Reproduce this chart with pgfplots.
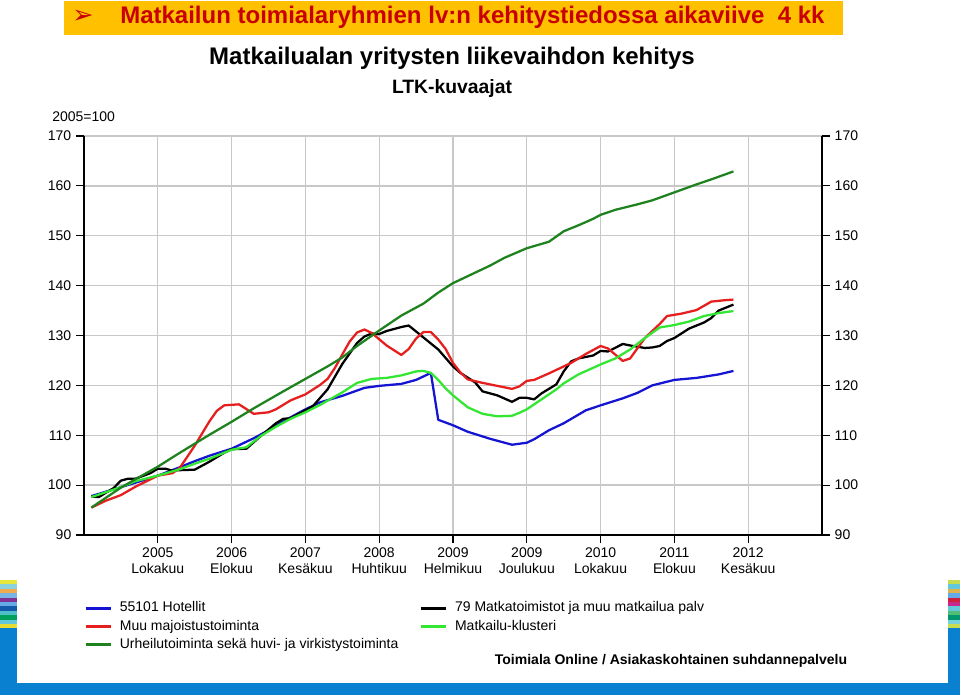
\documentclass[border=0pt]{standalone}
\usepackage{pgfplots}
\usepackage{pgfplotstable}
\pgfplotsset{compat=1.18}
\usepackage{fontspec}
\setmainfont{Liberation Sans}
\newfontfamily\dejavu{DejaVu Sans}
\definecolor{barGold}{RGB}{255,192,0}
\definecolor{titleRed}{RGB}{200,0,0}
\definecolor{slideBlue}{RGB}{10,128,208}
\definecolor{cBlue}{RGB}{20,20,210}
\definecolor{cRed}{RGB}{230,30,30}
\definecolor{cLGreen}{RGB}{50,230,50}
\definecolor{cDGreen}{RGB}{30,130,30}
\definecolor{gridGray}{RGB}{200,200,200}

% month index: 0 = Jan 2005
\pgfplotstableread{
m v
0 97.8
2 98.7
4 99.6
6 100.5
9 101.9
12 103.6
14 104.8
16 105.9
19 107.3
22 109.4
24 111.0
26 112.8
29 115.2
31 116.6
34 117.9
37 119.5
39 119.9
42 120.3
44 121.1
46 122.5
47 113.1
49 112.0
51 110.7
54 109.3
57 108.1
59 108.5
60 109.2
62 111.0
64 112.4
67 115.0
69 116.0
72 117.4
74 118.5
76 120.0
79 121.1
82 121.5
85 122.2
87 122.9
}\hotellit

\pgfplotstableread{
m v
0 97.7
1 97.6
3 99.4
4 100.9
5 101.3
6 101.3
8 102.4
9 103.3
10 103.3
11 102.9
12 103.0
14 103.1
16 104.7
18 106.5
19 107.2
21 107.3
23 109.9
25 112.4
26 113.3
27 113.4
29 115.0
30 115.8
32 119.2
34 124.3
36 128.5
37 129.8
38 130.4
39 130.3
40 130.9
42 131.7
43 132.0
44 130.8
45 129.6
47 127.2
49 123.8
50 122.5
52 120.6
53 118.8
55 118.0
57 116.7
58 117.5
59 117.5
60 117.2
61 118.4
63 120.2
64 122.8
65 124.8
66 125.4
68 126.0
69 126.9
70 126.8
72 128.3
73 128.0
75 127.5
76 127.6
77 127.9
78 128.9
79 129.5
81 131.4
83 132.6
84 133.5
85 135.0
87 136.2
}\matkatoimistot

\pgfplotstableread{
m v
0 95.5
2 96.9
4 98.0
6 99.7
9 101.9
11 102.4
12 103.5
14 107.9
16 112.8
17 114.9
18 116.0
20 116.2
22 114.3
24 114.6
25 115.2
27 117.0
29 118.2
31 120.1
32 121.3
33 123.5
34 126.2
35 128.8
36 130.6
37 131.2
38 130.5
40 128.0
42 126.1
43 127.3
44 129.4
45 130.7
46 130.7
47 129.2
48 127.3
49 124.5
50 122.6
51 121.2
53 120.5
55 119.9
57 119.3
58 119.8
59 120.9
60 121.1
62 122.4
65 124.5
67 126.3
69 127.9
70 127.4
72 124.9
73 125.4
75 129.5
77 132.3
78 133.9
80 134.4
82 135.1
84 136.8
86 137.1
87 137.2
}\majoitus

\pgfplotstableread{
m v
0 97.6
2 98.6
4 99.6
6 100.8
9 101.9
12 103.2
14 104.3
16 105.3
19 107.1
21 107.6
23 109.9
25 111.7
27 113.3
29 114.6
31 116.1
34 118.6
36 120.5
38 121.3
40 121.5
42 122.0
44 122.8
45 122.9
46 122.5
47 121.1
48 119.4
49 118.0
51 115.6
53 114.3
55 113.8
57 113.9
58 114.5
59 115.2
61 117.2
63 119.2
64 120.4
66 122.2
69 124.2
71 125.4
73 127.2
75 129.5
77 131.6
79 132.1
81 132.8
83 133.9
85 134.5
87 134.9
}\klusteri

\pgfplotstableread{
m v
0 95.5
2 97.5
4 99.5
6 101.2
9 103.7
12 106.5
14 108.3
16 110.1
19 112.7
22 115.4
24 117.1
26 118.8
29 121.3
32 123.8
34 125.6
36 127.9
39 131.0
42 134.0
45 136.4
47 138.6
49 140.5
52 142.6
54 144.0
56 145.6
59 147.5
62 148.8
64 150.9
66 152.1
68 153.4
69 154.2
71 155.2
74 156.3
76 157.1
79 158.7
82 160.3
84 161.3
87 162.9
}\urheilu

\begin{document}
\begin{tikzpicture}[x=0.75pt,y=-0.75pt]
\path[use as bounding box] (0,0) rectangle (960,695);
% slide background
\fill[slideBlue] (0,628) rectangle (960,695);
\fill[white] (17,0) rectangle (948,683);
% left stripes
\foreach \c [count=\i from 0] in {{230,230,60},{140,210,220},{240,170,80},{120,180,230},{130,50,150},{100,170,230},{20,90,170},{80,190,200},{0,160,90},{100,200,220},{230,220,50}}{
  \definecolor{tmpc}{RGB}{\c}
  \fill[tmpc] (0,{580+\i*4.4}) rectangle (17,{580+(\i+1)*4.4});
}
\foreach \c [count=\i from 0] in {{200,220,80},{100,200,220},{220,180,80},{100,170,230},{210,30,60},{200,40,140},{100,200,220},{80,190,120},{0,150,110},{120,210,220},{200,220,80}}{
  \definecolor{tmpc}{RGB}{\c}
  \fill[tmpc] (948,{580+\i*4.4}) rectangle (960,{580+(\i+1)*4.4});
}
% title bar
\fill[barGold] (64,1) rectangle (843,35);
\node[text=titleRed, font=\dejavu\fontsize{19}{19}\selectfont] at (83,17) {➢};
\node[anchor=west, text=titleRed, font=\fontsize{18}{20}\selectfont\bfseries, inner sep=0pt] at (120,17) {Matkailun toimialaryhmien lv:n kehitystiedossa aikaviive\ \ 4 kk};
% chart titles
\node[font=\fontsize{18}{20}\selectfont\bfseries] at (452,58) {Matkailualan yritysten liikevaihdon kehitys};
\node[font=\fontsize{14.5}{16}\selectfont\bfseries] at (452,89) {LTK-kuvaajat};
\node[anchor=west, font=\fontsize{10.5}{12}\selectfont, inner sep=0pt] at (52,117) {2005=100};
\node[font=\fontsize{10.5}{12}\selectfont\bfseries] at (671,661) {Toimiala Online / Asiakaskohtainen suhdannepalvelu};

\begin{axis}[
  at={(63pt,-401.25pt)}, anchor=south west,
  scale only axis, width=553.5pt, height=299.25pt,
  xmin=-1, xmax=99, ymin=90, ymax=170,
  axis x line*=bottom, axis y line*=box,
  axis line style={black, line width=1.6pt},
  ytick={90,100,...,170},
  xtick={9,19,...,89},
  xticklabels={{2005\\Lokakuu},{2006\\Elokuu},{2007\\Kesäkuu},{2008\\Huhtikuu},{2009\\Helmikuu},{2009\\Joulukuu},{2010\\Lokakuu},{2011\\Elokuu},{2012\\Kesäkuu}},
  xticklabel style={align=center, font=\fontsize{10.5}{12}\selectfont},
  yticklabel style={font=\fontsize{10.5}{12}\selectfont},
  /pgf/number format/assume math mode=true,
  tick align=outside, major tick length=6pt,
  tick style={black, line width=0.8pt},
  xtick pos=bottom, ytick pos=both,
  grid=major, major grid style={gridGray, line width=1pt},
  legend columns=2,
  legend cell align=left,
  legend style={at={(0,-0.163)}, anchor=north west, draw=none, fill=none, inner sep=0pt,
    font=\fontsize{10.5}{12}\selectfont,
    nodes={inner sep=1pt, text height=7.6pt, text depth=2.4pt},
    row sep=1.7pt,
    /tikz/every odd column/.append style={column sep=4.5pt},
    /tikz/every even column/.append style={column sep=14.8pt}},
  legend image code/.code={\draw[#1, line width=2.2pt] (0pt,0pt) -- (19pt,0pt);},
  every axis plot/.append style={line width=1.7pt, line join=round},
]
\addplot[cBlue] table[x=m,y=v] {\hotellit};
\addlegendentry{55101 Hotellit}
\addplot[black] table[x=m,y=v] {\matkatoimistot};
\addlegendentry{79 Matkatoimistot ja muu matkailua palv}
\addplot[cRed] table[x=m,y=v] {\majoitus};
\addlegendentry{Muu majoistustoiminta}
\addplot[cLGreen] table[x=m,y=v] {\klusteri};
\addlegendentry{Matkailu-klusteri}
\addplot[cDGreen] table[x=m,y=v] {\urheilu};
\addlegendentry{Urheilutoiminta sekä huvi- ja virkistystoiminta}
\end{axis}

\begin{axis}[
  at={(63pt,-401.25pt)}, anchor=south west,
  scale only axis, width=553.5pt, height=299.25pt,
  xmin=-1, xmax=99, ymin=90, ymax=170,
  axis x line=none, axis y line*=right,
  axis line style={draw=none},
  ytick={90,100,...,170},
  yticklabel style={font=\fontsize{10.5}{12}\selectfont},
  /pgf/number format/assume math mode=true,
  tick align=outside, major tick length=6pt,
  ytick style={draw=none},
]
\end{axis}
\end{tikzpicture}
\end{document}
